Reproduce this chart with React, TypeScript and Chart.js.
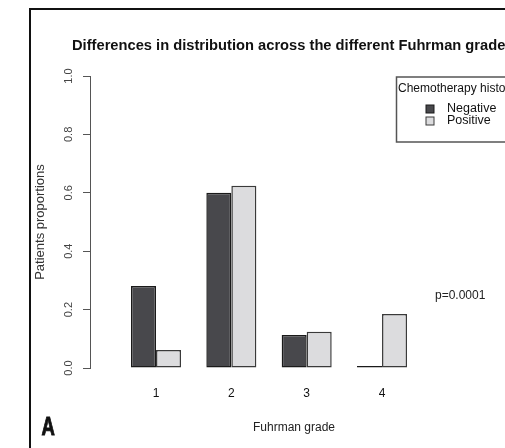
import { useEffect, useRef } from 'react';
import { Chart, registerables } from 'chart.js';

Chart.register(...registerables);

const grades = [1, 2, 3, 4];
const negativeValues = [0.281, 0.6, 0.113, 0];
const positiveValues = [0.062, 0.624, 0.124, 0.185];
const seriesLabels = ['Negative', 'Positive'];
const seriesColors = ['#48484c', '#dcdcde'];
const seriesBorders = ['#1a1a1a', '#3a3a3a'];
const yTickValues = [0, 0.2, 0.4, 0.6, 0.8, 1.0];
const titleText = 'Differences in distribution across the different Fuhrman grades';
const legendTitle = 'Chemotherapy history';
const pValueText = 'p=0.0001';
const xTitle = 'Fuhrman grade';
const yTitle = 'Patients proportions';
const panelLetter = 'A';

const FONT = '"Liberation Sans", Arial, sans-serif';

const annotate = {
  id: 'annotate',
  afterDraw(chart: any) {
    const ctx: CanvasRenderingContext2D = chart.ctx;
    const ys = chart.scales.y;
    ctx.save();
    // outer frame (cropped figure)
    ctx.strokeStyle = '#111';
    ctx.lineWidth = 2;
    ctx.beginPath();
    ctx.moveTo(30, 470);
    ctx.lineTo(30, 9);
    ctx.lineTo(530, 9);
    ctx.stroke();

    // title
    ctx.fillStyle = '#111';
    ctx.font = 'bold 14.7px ' + FONT;
    ctx.textAlign = 'left';
    ctx.textBaseline = 'alphabetic';
    ctx.fillText(titleText, 72, 50);

    // y tick labels (rotated, R style)
    ctx.font = '11px ' + FONT;
    ctx.fillStyle = '#444';
    for (const t of ys.ticks) {
      const py = ys.getPixelForValue(t.value);
      ctx.save();
      ctx.translate(68.5, py);
      ctx.rotate(-Math.PI / 2);
      ctx.textAlign = 'center';
      ctx.textBaseline = 'middle';
      ctx.fillText(Number(t.value).toFixed(1), 0, 0);
      ctx.restore();
    }

    // y title
    ctx.save();
    ctx.font = '13px ' + FONT;
    ctx.fillStyle = '#333';
    ctx.translate(40, 222);
    ctx.rotate(-Math.PI / 2);
    ctx.textAlign = 'center';
    ctx.textBaseline = 'middle';
    ctx.fillText(yTitle, 0, 0);
    ctx.restore();

    // x title
    ctx.font = '12px ' + FONT;
    ctx.fillStyle = '#222';
    ctx.textAlign = 'center';
    ctx.textBaseline = 'alphabetic';
    ctx.fillText(xTitle, 294, 431);

    // p-value
    ctx.textAlign = 'left';
    ctx.textBaseline = 'middle';
    ctx.fillText(pValueText, 435, 296);

    // panel letter (condensed bold)
    ctx.save();
    ctx.font = 'bold 25px ' + FONT;
    ctx.fillStyle = '#111';
    ctx.strokeStyle = '#111';
    ctx.lineWidth = 0.9;
    ctx.lineJoin = 'miter';
    ctx.textBaseline = 'alphabetic';
    ctx.translate(41.5, 435);
    ctx.scale(0.74, 1);
    ctx.fillText(panelLetter, 0, 0);
    ctx.strokeText(panelLetter, 0, 0);
    ctx.restore();

    // legend
    ctx.strokeStyle = '#555';
    ctx.lineWidth = 1.5;
    ctx.strokeRect(396.5, 77, 140, 65);
    ctx.font = '12px ' + FONT;
    ctx.fillStyle = '#111';
    ctx.textAlign = 'left';
    ctx.textBaseline = 'middle';
    ctx.fillText(legendTitle, 398, 89);
    const itemY = [109, 121];
    ctx.font = '12.5px ' + FONT;
    chart.data.datasets.forEach((ds: any, i: number) => {
      ctx.fillStyle = ds.backgroundColor;
      ctx.fillRect(426, itemY[i] - 4, 8, 8);
      ctx.strokeStyle = ds.borderColor;
      ctx.lineWidth = 1;
      ctx.strokeRect(426, itemY[i] - 4, 8, 8);
      ctx.fillStyle = '#111';
      ctx.fillText(ds.label, 447, itemY[i]);
    });
    ctx.restore();
  },
};

export default function App() {
  const ref = useRef<HTMLCanvasElement>(null);
  useEffect(() => {
    if (!ref.current) return;
    const chart = new Chart(ref.current, {
      type: 'bar',
      data: {
        datasets: [negativeValues, positiveValues].map((vals, s) => ({
          label: seriesLabels[s],
          data: grades.map((g, i) => ({ x: g, y: vals[i] })),
          backgroundColor: seriesColors[s],
          borderColor: seriesBorders[s],
          borderWidth: 1.5,
          borderSkipped: false,
          minBarLength: 2,
          categoryPercentage: 0.664,
          barPercentage: 1,
        })),
      },
      options: {
        animation: false,
        responsive: false,
        layout: { padding: { left: 30, top: 76, right: 85, bottom: 0 } },
        plugins: {
          legend: { display: false },
          title: { display: false },
          tooltip: { enabled: false },
        },
        scales: {
          x: {
            type: 'linear',
            offset: false,
            min: 0.124,
            max: 4.504,
            afterBuildTicks: (s: any) => {
              s.ticks = grades.map((v) => ({ value: v }));
            },
            afterFit: (s: any) => {
              s.height = 80;
            },
            grid: { display: false, drawTicks: false },
            border: { display: false },
            ticks: { font: { size: 12, family: FONT }, color: '#111', padding: 18 },
          },
          y: {
            type: 'linear',
            min: 0,
            max: 1,
            afterBuildTicks: (s: any) => {
              s.ticks = yTickValues.map((v) => ({ value: v }));
            },
            afterFit: (s: any) => {
              s.width = 60;
            },
            grid: { drawOnChartArea: false, drawTicks: true, tickLength: 7, color: '#555' },
            border: { display: true, color: '#555', width: 1 },
            ticks: { display: false },
          },
        },
      } as any,
      plugins: [annotate],
    });
    return () => chart.destroy();
  }, []);
  return (
    <div style={{ position: 'fixed', left: 0, top: 0, width: 505, height: 448, background: '#fff' }}>
      <canvas ref={ref} width={505} height={448} style={{ display: 'block' }} />
    </div>
  );
}
